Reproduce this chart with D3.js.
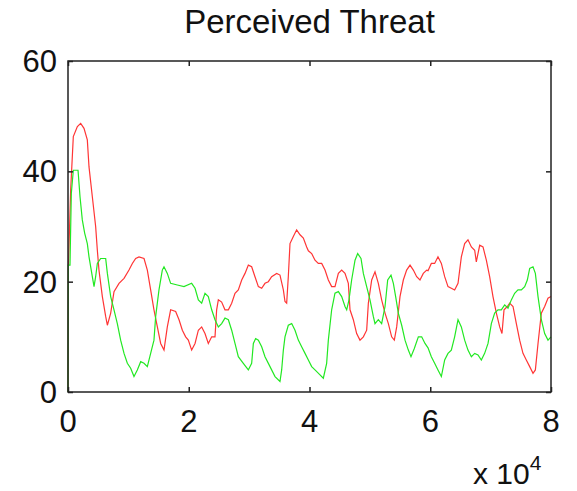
<!DOCTYPE html>
<html>
<head>
<meta charset="utf-8">
<script src="https://cdn.jsdelivr.net/npm/d3@7/dist/d3.min.js"></script>
<style>
  html, body { margin: 0; padding: 0; background: #fff; }
  svg { display: block; font-family: 'Liberation Sans', Arial, sans-serif; }
</style>
</head>
<body>
<div id="chart"></div>
<script>
// Data (x in raw units, shown as x 10^4)
const xTicks = [0, 20000, 40000, 60000, 80000];
const xTickLabels = ['0', '2', '4', '6', '8'];
const yTicks = [0, 20, 40, 60];

const redX = [0, 50, 440, 880, 1550, 2100, 2650, 3200, 3480, 4030,
  4580, 4860, 5130, 5690, 6240, 6520, 7070, 7620, 8450, 9280,
  10100, 10660, 11210, 11760, 12590, 13140, 13690, 14240, 14800, 15350,
  15900, 16450, 17000, 17830, 18390, 18940, 19490, 19930, 20480, 21040,
  21590, 22140, 22690, 23240, 23800, 24350, 24620, 24900, 25450, 26000,
  26560, 27110, 27660, 28210, 28770, 29320, 29870, 30420, 30970, 31530,
  32080, 32630, 33180, 33730, 34560, 35110, 35670, 35940, 36220, 36490,
  36770, 37320, 37870, 38430, 38980, 39530, 39810, 40360, 40910, 41460,
  42020, 42570, 43120, 43670, 44220, 44780, 45330, 45880, 46430, 46710,
  47260, 47810, 48360, 48920, 49470, 49750, 50300, 50850, 51400, 51950,
  52510, 53060, 53610, 54050, 54440, 54990, 55540, 56090, 56650, 57200,
  57750, 58300, 58850, 59410, 59630, 60180, 60730, 61280, 61840, 62390,
  62940, 63490, 64040, 64600, 65150, 65700, 66250, 66810, 67360, 67630,
  68190, 68740, 69290, 69840, 70390, 70950, 71500, 71880, 72220, 72770,
  73150, 73710, 74260, 74810, 75360, 75910, 76470, 77020, 77410, 77850,
  78400, 78950, 79500, 80000];
const redY = [0, 22, 36.6, 46.3, 48.1, 48.7, 47.8, 45.7, 40.8, 35.4,
  30, 25.7, 22.1, 17.3, 13.7, 12.1, 14.3, 18.2, 19.7, 20.6,
  22.1, 23.3, 24.2, 24.5, 24.2, 22.1, 18.5, 14.9, 11.8, 8.8,
  7.6, 11.8, 14.9, 14.6, 13.1, 11.2, 10.0, 9.4, 7.6, 8.8,
  11.2, 11.8, 10.6, 8.8, 10.0, 10.0, 14.9, 16.7, 16.3, 14.9,
  14.9, 16.1, 17.9, 18.5, 20.3, 21.5, 23.0, 22.7, 20.9, 19.1,
  18.8, 19.7, 20.0, 20.9, 21.5, 21.2, 18.5, 16.4, 16.1, 20.9,
  26.9, 28.2, 29.4, 28.5, 27.9, 26.3, 25.6, 25.1, 23.9, 23.3,
  23.3, 22.1, 20.3, 19.1, 19.1, 21.5, 22.1, 21.5, 19.7, 14.9,
  13.1, 10.6, 9.4, 10.0, 11.2, 16.1, 20.3, 21.8, 19.7, 16.7,
  14.3, 12.4, 10.0, 9.4, 11.8, 17.3, 20.3, 22.1, 23.0, 22.1,
  20.9, 20.3, 21.5, 22.1, 22.0, 23.3, 23.3, 24.5, 23.3, 20.9,
  19.1, 18.8, 18.5, 19.7, 24.5, 26.9, 27.6, 26.3, 25.7, 23.6,
  26.6, 26.3, 23.9, 20.9, 17.3, 14.3, 11.8, 10.6, 14.9, 15.5,
  16.1, 15.5, 12.4, 9.4, 7.0, 5.8, 4.6, 3.4, 4.0, 8.8,
  14.3, 15.5, 17.0, 17.3];

const greenX = [0, 50, 330, 550, 880, 1660, 1990, 2370, 2760, 3200,
  3480, 4030, 4310, 4580, 4860, 5410, 6240, 6520, 7070, 7620,
  8170, 8720, 9280, 9830, 10380, 10930, 11480, 12040, 12590, 13140,
  13690, 14240, 14520, 15070, 15620, 15900, 16450, 17000, 18110, 19210,
  20480, 21040, 21590, 22140, 22690, 23240, 23800, 24350, 24900, 25450,
  26000, 26560, 27110, 27660, 28210, 29040, 29870, 30420, 30700, 31080,
  31530, 32080, 32630, 33460, 34290, 35110, 35390, 35670, 35940, 36490,
  37050, 37600, 38150, 38700, 39260, 39810, 40360, 40910, 41740, 42290,
  42840, 43120, 43670, 44220, 44780, 45330, 45880, 46160, 46540, 46980,
  47540, 47980, 48530, 48920, 49470, 50020, 50570, 50850, 51400, 51950,
  52510, 52950, 53500, 53890, 54270, 54710, 55270, 55820, 56370, 56810,
  57360, 58030, 58580, 59130, 59630, 60180, 60730, 61280, 61840, 62390,
  62940, 63490, 64040, 64600, 65150, 65700, 66250, 66810, 67360, 67910,
  68460, 69010, 69570, 70120, 70670, 71220, 71770, 72330, 72880, 73430,
  73980, 74530, 75090, 75640, 76080, 76470, 77020, 77410, 77850, 78400,
  78950, 79500, 80000];
const greenY = [0, 23, 23, 36, 40.2, 40.2, 35.4, 31.2, 28.8, 26.9,
  24.5, 20.9, 19.1, 20.9, 23.3, 24.2, 24.2, 21.5, 17.3, 14.9,
  12.4, 9.4, 7.0, 5.2, 4.3, 2.8, 4.0, 5.5, 5.2, 4.6,
  7.0, 9.4, 13.7, 18.5, 22.1, 22.7, 21.5, 19.7, 19.4, 19.1,
  19.7, 18.8, 16.7, 16.1, 17.9, 17.3, 14.9, 13.1, 11.8, 12.4,
  13.4, 13.1, 11.2, 8.8, 6.4, 5.2, 4.0, 5.2, 8.8, 9.7,
  9.4, 8.2, 6.4, 4.6, 2.8, 1.9, 4.0, 7.6, 10.0, 12.1,
  12.4, 11.2, 9.4, 8.2, 7.0, 5.8, 4.6, 4.0, 3.1, 2.5,
  5.2, 9.4, 14.9, 17.9, 18.2, 17.3, 15.5, 14.9, 16.7, 20.3,
  23.9, 25.1, 24.2, 21.5, 19.1, 16.7, 13.7, 12.4, 13.1, 12.4,
  15.5, 20.3, 21.2, 19.7, 17.3, 14.3, 12.1, 9.4, 7.6, 6.4,
  7.9, 10.0, 10.0, 8.8, 8.0, 6.4, 5.2, 4.0, 2.8, 5.8,
  7.0, 7.6, 10.0, 13.1, 11.8, 9.4, 7.6, 6.4, 7.0, 6.7,
  5.8, 7.0, 8.8, 12.4, 14.3, 14.9, 14.9, 15.8, 15.2, 16.7,
  17.9, 18.5, 18.5, 19.1, 20.3, 22.4, 22.7, 21.5, 17.3, 13.1,
  10.6, 9.4, 10.0];

// Layout
const W = 577, H = 491;
const margin = { top: 61, right: 26, bottom: 99, left: 68 };
const width = W - margin.left - margin.right;
const height = H - margin.top - margin.bottom;
const tickLen = 5;

const svg = d3.select('#chart').append('svg')
  .attr('width', W)
  .attr('height', H);

const g = svg.append('g')
  .attr('transform', `translate(${margin.left},${margin.top})`);

const x = d3.scaleLinear().domain([0, 80000]).range([0, width]);
const y = d3.scaleLinear().domain([0, 60]).range([height, 0]);

// Series lines
const line = d3.line()
  .x(d => x(d[0]))
  .y(d => y(d[1]));

g.append('path')
  .datum(d3.zip(redX, redY))
  .attr('fill', 'none')
  .attr('stroke', '#ff3535')
  .attr('stroke-width', 1.2)
  .attr('d', line);

g.append('path')
  .datum(d3.zip(greenX, greenY))
  .attr('fill', 'none')
  .attr('stroke', '#22e822')
  .attr('stroke-width', 1.2)
  .attr('d', line);

// Box around the plot (MATLAB style, ticks pointing inwards)
g.append('rect')
  .attr('width', width)
  .attr('height', height)
  .attr('fill', 'none')
  .attr('stroke', '#222')
  .attr('stroke-width', 1.5);

const bottomAxis = g.append('g')
  .attr('transform', `translate(0,${height})`)
  .call(d3.axisTop(x).tickValues(xTicks).tickSize(tickLen).tickFormat(''));
const topAxis = g.append('g')
  .call(d3.axisBottom(x).tickValues(xTicks).tickSize(tickLen).tickFormat(''));
const leftAxis = g.append('g')
  .call(d3.axisRight(y).tickValues(yTicks).tickSize(tickLen).tickFormat(''));
const rightAxis = g.append('g')
  .attr('transform', `translate(${width},0)`)
  .call(d3.axisLeft(y).tickValues(yTicks).tickSize(tickLen).tickFormat(''));

[bottomAxis, topAxis, leftAxis, rightAxis].forEach(a => {
  a.select('.domain').remove();
  a.selectAll('line').attr('stroke', '#222').attr('stroke-width', 1.5);
});

// Tick labels
g.selectAll('.xlabel')
  .data(xTicks)
  .enter().append('text')
  .attr('class', 'xlabel')
  .attr('x', d => x(d))
  .attr('y', height + 40)
  .attr('text-anchor', 'middle')
  .style('font-size', '31px')
  .style('fill', '#111')
  .text((d, i) => xTickLabels[i]);

g.selectAll('.ylabel')
  .data(yTicks)
  .enter().append('text')
  .attr('class', 'ylabel')
  .attr('x', -11)
  .attr('y', d => y(d))
  .attr('dy', '0.36em')
  .attr('text-anchor', 'end')
  .style('font-size', '31px')
  .style('fill', '#111')
  .text(d => d);

// Exponent label "x 10^4"
const expo = svg.append('text')
  .attr('x', 473)
  .attr('y', 484)
  .style('font-size', '30px')
  .style('fill', '#111');
expo.append('tspan').text('x 10');
expo.append('tspan')
  .attr('dy', -14)
  .style('font-size', '21px')
  .text('4');

// Title
svg.append('text')
  .attr('x', margin.left + width / 2)
  .attr('y', 33)
  .attr('text-anchor', 'middle')
  .style('font-size', '33px')
  .style('fill', '#111')
  .text('Perceived Threat');
</script>
</body>
</html>
